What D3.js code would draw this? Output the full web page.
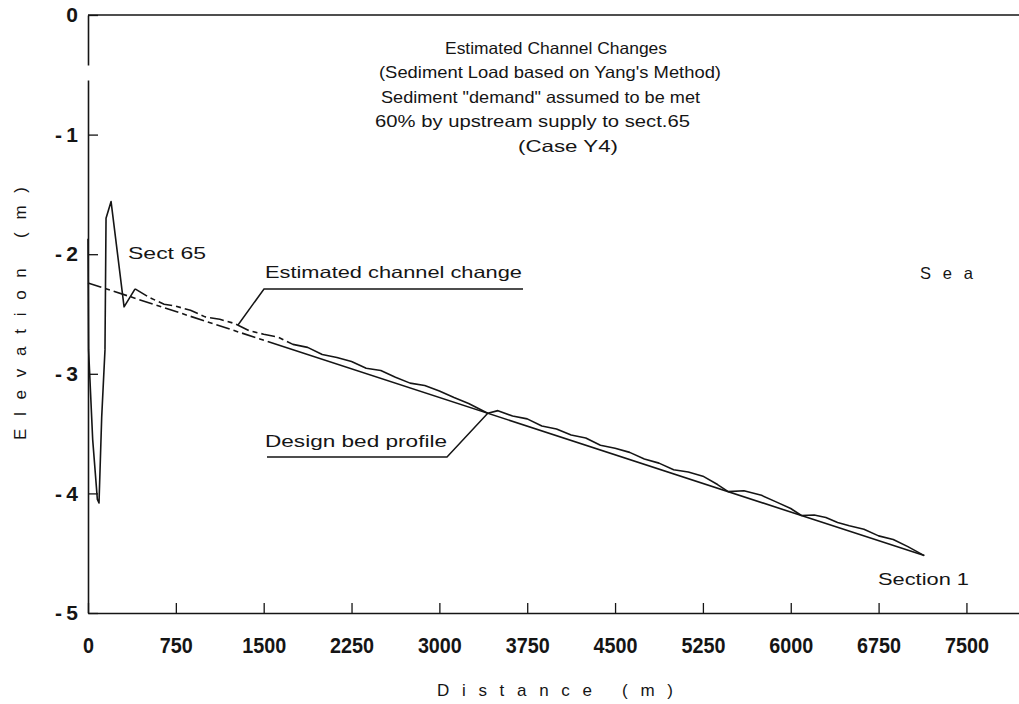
<!DOCTYPE html>
<html><head><meta charset="utf-8">
<script src="https://cdn.jsdelivr.net/npm/d3@7"></script>
<style>body{margin:0;background:#fff} svg{display:block}</style>
</head><body><svg id="c" width="1019" height="704"></svg>
<script>
// ---- data ----
const xTicks = [0, 750, 1500, 2250, 3000, 3750, 4500, 5250, 6000, 6750, 7500];
const yTicks = [0, -1, -2, -3, -4, -5];

// Design bed profile (distance m, elevation m)
const designDist = [0, 7140];
const designElev = [-2.24, -4.52];

// Estimated channel change (distance m, elevation m)
const estDist = [0, 5, 40, 80, 94, 117, 145, 154, 197, 308, 402, 530, 650, 750, 875, 1000, 1125, 1250, 1375, 1500, 1625, 1750, 1875, 2000, 2125, 2250, 2375, 2500, 2625, 2750, 2875, 3000, 3125, 3250, 3413, 3500, 3625, 3750, 3875, 4000, 4125, 4250, 4375, 4500, 4625, 4750, 4875, 5000, 5125, 5250, 5375, 5466, 5600, 5750, 5875, 6000, 6091, 6200, 6300, 6400, 6500, 6625, 6750, 6875, 7000, 7140];
const estElev = [-1.87, -2.8, -3.55, -4.05, -4.08, -3.36, -2.8, -1.70, -1.56, -2.44, -2.29, -2.365, -2.418, -2.435, -2.469, -2.524, -2.544, -2.579, -2.639, -2.669, -2.694, -2.754, -2.779, -2.839, -2.864, -2.898, -2.953, -2.973, -3.028, -3.078, -3.098, -3.143, -3.198, -3.248, -3.330, -3.308, -3.353, -3.377, -3.437, -3.462, -3.512, -3.537, -3.597, -3.622, -3.657, -3.712, -3.747, -3.802, -3.821, -3.856, -3.926, -3.985, -3.978, -4.016, -4.071, -4.126, -4.185, -4.180, -4.202, -4.244, -4.271, -4.300, -4.355, -4.385, -4.445, -4.52];

const titleLines = ["Estimated Channel Changes", "(Sediment Load based on Yang's Method)", "Sediment \"demand\" assumed to be met", "60% by upstream supply to sect.65", "(Case Y4)"];

// ---- drawing ----
const svg = d3.select("#c");
const FONT = "'Liberation Sans', Arial, sans-serif";
const INK = "#151515";
const x = d3.scaleLinear().domain([0, 8000]).range([88, 1025]);
const y = d3.scaleLinear().domain([-5, 0]).range([613, 15]);

// bottom axis
const gx = svg.append("g").attr("transform", `translate(0,${y(-5)})`)
  .call(d3.axisBottom(x).tickValues(xTicks).tickSize(-10).tickSizeOuter(0).tickPadding(24).tickFormat(d3.format("d")));
gx.select(".domain").attr("stroke", INK).attr("stroke-width", 1.6);
gx.selectAll(".tick line").attr("stroke", INK).attr("stroke-width", 1.3);
gx.selectAll(".tick text").attr("font-family", FONT).attr("font-weight", "bold").attr("font-size", 22).attr("fill", INK)
  .attr("textLength", d => String(d).length * 11).attr("lengthAdjust", "spacingAndGlyphs");

// left axis
const gy = svg.append("g").attr("transform", `translate(${x(0)},0)`)
  .call(d3.axisLeft(y).tickValues(yTicks).tickSize(-10).tickSizeOuter(0).tickPadding(10)
    .tickFormat(d => d === 0 ? "0" : "-\u2009" + Math.abs(d)));
gy.select(".domain").attr("stroke", INK).attr("stroke-width", 1.6)
  .attr("stroke-dasharray", `${y(-5) - 80},15,2000`);
gy.selectAll(".tick line").attr("stroke", INK).attr("stroke-width", 1.3);
gy.selectAll(".tick text").attr("font-family", FONT).attr("font-weight", "bold").attr("font-size", 21).attr("fill", INK);

// top frame line
svg.append("line").attr("x1", x(0)).attr("x2", x(8000)).attr("y1", y(0)).attr("y2", y(0))
  .attr("stroke", INK).attr("stroke-width", 1.6);

// lines
const designPts = designDist.map((d, i) => [d, designElev[i]]);
const estPts = estDist.map((d, i) => [d, estElev[i]]);
const pattern = Array(7).fill("14,4,5,4").join(",");
const line = d3.line().x(d => x(d[0])).y(d => y(d[1]));

svg.append("path").attr("d", line(designPts))
  .attr("fill", "none").attr("stroke", INK)
  .attr("stroke-width", 1.6).attr("stroke-dasharray", pattern + ",5000,0");

const tmp = svg.append("path").attr("d", line(estPts.slice(0, 11)));
const L0 = tmp.node().getTotalLength();
tmp.remove();
svg.append("path").attr("d", line(estPts)).attr("fill", "none").attr("stroke", INK)
  .attr("stroke-width", 1.6).attr("stroke-linejoin", "round")
  .attr("stroke-dasharray", `${L0},0,` + Array(6).fill("14,4,5,4").join(",") + ",5000,0");

// text helper
function label(txt, x0, x1, yc, size, adjust) {
  return svg.append("text").text(txt)
    .attr("x", x0).attr("y", yc + size * 0.36)
    .attr("font-family", FONT).attr("font-size", size).attr("fill", INK)
    .attr("textLength", x1 - x0).attr("lengthAdjust", adjust || "spacingAndGlyphs");
}

// title block
const tPos = [[445, 667, 48], [379, 721, 72], [381, 700, 97], [375, 690, 121], [518, 618, 146]];
titleLines.forEach((t, i) => label(t, tPos[i][0], tPos[i][1], tPos[i][2], 16.5));

// annotations
label("Sect 65", 128, 206, 253, 16.5);
label("Estimated channel change", 265, 522, 272, 16.5);
label("Design bed profile", 265, 447, 441, 16.5);
label("S e a", 920, 973, 273, 16.5, "spacing");
label("Section 1", 878, 969, 579, 16.5);

// leaders
const lead = d3.line();
svg.append("path").attr("d", lead([[523, 289], [264, 289], [238, 325]])).attr("fill", "none").attr("stroke", INK).attr("stroke-width", 1.5);
svg.append("path").attr("d", lead([[267, 457], [447, 457], [488, 413]])).attr("fill", "none").attr("stroke", INK).attr("stroke-width", 1.5);

// axis titles
label("Distance (m)", 437, 673, 690, 17, "spacing");
svg.append("text").text("Elevation (m)")
  .attr("transform", "translate(26,440) rotate(-90)")
  .attr("x", 0).attr("y", 0)
  .attr("font-family", FONT).attr("font-size", 17).attr("fill", INK)
  .attr("textLength", 253).attr("lengthAdjust", "spacing");
</script></body></html>
